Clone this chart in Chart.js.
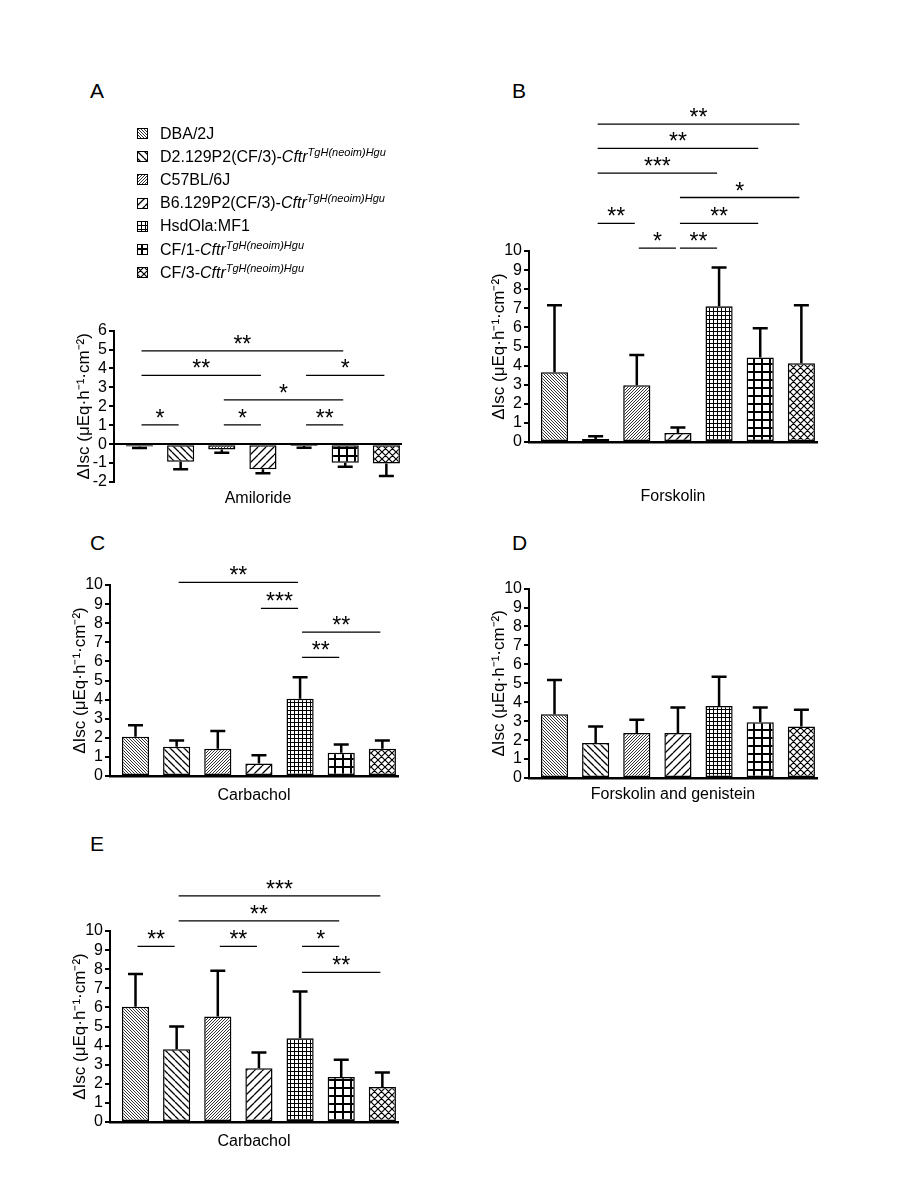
<!DOCTYPE html>
<html>
<head>
<meta charset="utf-8">
<script src="https://cdn.jsdelivr.net/npm/chart.js@4.4.1/dist/chart.umd.min.js"></script>
<style>
  body { margin: 0; background: #fff; width: 900px; height: 1200px; position: relative;
         font-family: "Liberation Sans", Arial, sans-serif; color: #000; }
  canvas.panel { position: absolute; }
  .letter { position: absolute; font-size: 21px; line-height: 21px; }
  #legend { position: absolute; left: 137px; top: 122px; font-size: 16px; }
  #legend .row { height: 23.2px; display: flex; align-items: center; white-space: nowrap; }
  #legend canvas { width: 11px; height: 11px; margin-right: 12px; }
  #legend sup { font-size: 11px; font-style: italic; line-height: 0; vertical-align: 6px; }
</style>
</head>
<body>
<div class="letter" style="left:90px;top:80px">A</div>
<div class="letter" style="left:512px;top:80px">B</div>
<div class="letter" style="left:90px;top:532px">C</div>
<div class="letter" style="left:512px;top:532px">D</div>
<div class="letter" style="left:90px;top:833px">E</div>
<div id="legend"></div>
<canvas class="panel" id="chartA"></canvas>
<canvas class="panel" id="chartB"></canvas>
<canvas class="panel" id="chartC"></canvas>
<canvas class="panel" id="chartD"></canvas>
<canvas class="panel" id="chartE"></canvas>
<script>
(() => {
  'use strict'

  const strains = ['DBA/2J', 'D2.129P2(CF/3)-Cftr', 'C57BL/6J', 'B6.129P2(CF/3)-Cftr',
                   'HsdOla:MF1', 'CF/1-Cftr', 'CF/3-Cftr'];
  const allele = 'TgH(neoim)Hgu';

  // mean and error (SEM) per strain
  const amilorideMean = [-0.12, -0.93, -0.28, -1.33, -0.1, -0.98, -1.02];
  const amilorideErr = [0.09, 0.39, 0.18, 0.21, 0.09, 0.21, 0.66];
  const forskolinMean = [3.65, 0.16, 2.97, 0.47, 7.11, 4.43, 4.12];
  const forskolinErr = [3.51, 0.14, 1.58, 0.29, 2.02, 1.53, 3.04];
  const carbacholCMean = [2.05, 1.53, 1.43, 0.65, 4.04, 1.22, 1.43];
  const carbacholCErr = [0.61, 0.33, 0.92, 0.43, 1.13, 0.43, 0.43];
  const fskGenMean = [3.37, 1.85, 2.38, 2.38, 3.8, 2.95, 2.72];
  const fskGenErr = [1.8, 0.87, 0.69, 1.34, 1.54, 0.77, 0.88];
  const carbacholEMean = [6.04, 3.81, 5.52, 2.82, 4.39, 2.35, 1.83];
  const carbacholEErr = [1.71, 1.19, 2.4, 0.82, 2.44, 0.91, 0.76];

  // significance brackets: [from bar, to bar, height, label]
  const sigA = [[0, 5, 4.93, '**'], [0, 3, 3.63, '**'], [4, 6, 3.63, '*'], [2, 5, 2.34, '*'],
                [0, 1, 1.02, '*'], [2, 3, 1.02, '*'], [4, 5, 1.02, '**']];
  const sigB = [[1, 6, 16.64, '**'], [1, 5, 15.37, '**'], [1, 4, 14.08, '***'], [3, 6, 12.8, '*'],
                [1, 2, 11.45, '**'], [3, 5, 11.45, '**'], [2, 3, 10.15, '*'], [3, 4, 10.15, '**']];
  const sigC = [[1, 4, 10.14, '**'], [3, 4, 8.78, '***'], [4, 6, 7.53, '**'], [4, 5, 6.21, '**']];
  const sigD = [];
  const sigE = [[1, 6, 11.84, '***'], [1, 5, 10.53, '**'], [0, 1, 9.2, '**'], [2, 3, 9.2, '**'],
                [4, 5, 9.2, '*'], [4, 6, 7.83, '**']];

  const rangeA = [-2, 6];
  const rangeFull = [0, 10];
  const yTitle = 'ΔIsc (μEq·h⁻¹·cm⁻²)';

  const FONT = '"Liberation Sans", Arial, sans-serif';
  Chart.defaults.font.family = FONT;
  Chart.defaults.color = '#000';

  const patternSpecs = [
    { type: 'back', size: 3, width: 0.8 },
    { type: 'back', size: 7, width: 1.3 },
    { type: 'fwd', size: 3, width: 0.8 },
    { type: 'fwd', size: 8, width: 1.3 },
    { type: 'grid', size: 4, width: 1 },
    { type: 'grid', size: 8, width: 2 },
    { type: 'cross', size: 7, width: 1.2 }
  ];

  function tile(spec) {
    const s = spec.size;
    const c = document.createElement('canvas');
    c.width = s; c.height = s;
    const g = c.getContext('2d');
    g.fillStyle = '#fff';
    g.fillRect(0, 0, s, s);
    g.strokeStyle = '#000';
    g.lineWidth = spec.width;
    g.beginPath();
    if (spec.type === 'back' || spec.type === 'cross') {
      for (const k of [-s, 0, s]) { g.moveTo(k, 0); g.lineTo(k + s, s); }
    }
    if (spec.type === 'fwd' || spec.type === 'cross') {
      for (const k of [-s, 0, s]) { g.moveTo(k, s); g.lineTo(k + s, 0); }
    }
    if (spec.type === 'grid') {
      const p = spec.width / 2;
      g.moveTo(p, 0); g.lineTo(p, s);
      g.moveTo(0, p); g.lineTo(s, p);
    }
    g.stroke();
    return c;
  }
  const tiles = patternSpecs.map(tile);
  const patternsFor = ctx => tiles.map(t => ctx.createPattern(t, 'repeat'));

  // legend (HTML, for the italic gene name and superscript allele)
  const legend = document.getElementById('legend');
  strains.forEach((name, i) => {
    const row = document.createElement('div');
    row.className = 'row';
    const sw = document.createElement('canvas');
    sw.width = 11; sw.height = 11;
    const g = sw.getContext('2d');
    const pat = g.createPattern(tiles[i], 'repeat');
    if (patternSpecs[i].type === 'grid' && patternSpecs[i].size > 4) {
      pat.setTransform(new DOMMatrix().translate(4, 4));
    }
    g.fillStyle = pat;
    g.fillRect(0, 0, 11, 11);
    g.strokeStyle = '#000';
    g.lineWidth = 1;
    g.strokeRect(0.5, 0.5, 10, 10);
    row.appendChild(sw);
    const txt = document.createElement('span');
    if (name.endsWith('-Cftr')) {
      txt.innerHTML = name.slice(0, -4) + '<i>Cftr</i><sup>' + allele + '</sup>';
    } else {
      txt.textContent = name;
    }
    row.appendChild(txt);
    legend.appendChild(row);
  });

  const errorBars = {
    id: 'errorBars',
    afterDatasetsDraw(chart, args, opts) {
      const { ctx, scales: { y } } = chart;
      const vals = chart.data.datasets[0].data;
      ctx.save();
      ctx.strokeStyle = '#000';
      ctx.lineWidth = 2.5;
      chart.getDatasetMeta(0).data.forEach((bar, i) => {
        const v = vals[i];
        const end = y.getPixelForValue(v + Math.sign(v) * opts.errors[i]);
        ctx.beginPath();
        ctx.moveTo(bar.x, bar.y);
        ctx.lineTo(bar.x, end);
        ctx.moveTo(bar.x - 7.5, end);
        ctx.lineTo(bar.x + 7.5, end);
        ctx.stroke();
      });
      ctx.restore();
    }
  };

  const sigBars = {
    id: 'sigBars',
    afterDraw(chart, args, opts) {
      const { ctx, scales: { x, y } } = chart;
      ctx.save();
      ctx.strokeStyle = '#000';
      ctx.fillStyle = '#000';
      ctx.lineWidth = 1.3;
      ctx.font = '23px ' + FONT;
      ctx.textAlign = 'center';
      ctx.textBaseline = 'alphabetic';
      opts.marks.forEach(([a, b, v, label]) => {
        const x1 = x.getPixelForValue(a) + 2;
        const x2 = x.getPixelForValue(b) - 2;
        const yy = y.getPixelForValue(v);
        ctx.beginPath();
        ctx.moveTo(x1, yy);
        ctx.lineTo(x2, yy);
        ctx.stroke();
        ctx.fillText(label, (x1 + x2) / 2, yy + 1);
      });
      ctx.restore();
    }
  };

  const Y_W = 40, CHART_W = 288, PAD_R = 10;

  function panel(id, box, mean, err, sig, range, xTitle, zeroLine) {
    const el = document.getElementById(id);
    const chartH = (range[1] - range[0]) * 19.15;
    el.width = Y_W + CHART_W + PAD_R;
    el.height = box.padTop + chartH + box.xH;
    el.style.left = (box.axisX - Y_W) + 'px';
    el.style.top = (box.topY - box.padTop) + 'px';
    const ctx = el.getContext('2d');

    return new Chart(ctx, {
      type: 'bar',
      data: {
        labels: strains.map(s => s.endsWith('-Cftr') ? s + allele : s),
        datasets: [{
          data: mean,
          backgroundColor: patternsFor(ctx),
          borderColor: '#000',
          borderWidth: 1.5,
          borderSkipped: false,
          categoryPercentage: 0.66,
          barPercentage: 1
        }]
      },
      options: {
        responsive: false,
        animation: false,
        events: [],
        layout: { padding: { top: box.padTop, right: PAD_R, left: 0, bottom: 0 } },
        scales: {
          x: {
            offset: true,
            afterDataLimits: s => { s.min = -0.12; },
            afterFit: s => { s.height = box.xH; },
            ticks: { display: false },
            grid: { display: false },
            border: { display: !zeroLine, color: '#000', width: 2.5 },
            title: { display: true, text: xTitle, font: { size: 16 }, padding: 0 }
          },
          y: {
            min: range[0],
            max: range[1],
            afterFit: s => { s.width = Y_W; },
            ticks: { stepSize: 1, autoSkip: false, font: { size: 16 }, padding: 2 },
            grid: {
              drawOnChartArea: !!zeroLine,
              color: c => (c.tick && c.tick.value === 0) ? '#000' : 'rgba(0,0,0,0)',
              lineWidth: 2,
              tickColor: '#000',
              tickWidth: 2,
              tickLength: 5
            },
            border: { display: true, color: '#000', width: 2 },
            title: { display: true, text: yTitle, font: { size: 17 }, padding: 0 }
          }
        },
        plugins: {
          legend: { display: false },
          tooltip: { enabled: false },
          errorBars: { errors: err },
          sigBars: { marks: sig }
        }
      },
      plugins: [errorBars, sigBars]
    });
  }

  panel('chartA', { axisX: 114, topY: 329, padTop: 10, xH: 26 },
    amilorideMean, amilorideErr, sigA, rangeA, 'Amiloride', true);
  panel('chartB', { axisX: 529, topY: 251, padTop: 160, xH: 64 },
    forskolinMean, forskolinErr, sigB, rangeFull, 'Forskolin', false);
  panel('chartC', { axisX: 110, topY: 585, padTop: 35, xH: 29 },
    carbacholCMean, carbacholCErr, sigC, rangeFull, 'Carbachol', false);
  panel('chartD', { axisX: 529, topY: 587, padTop: 10, xH: 26 },
    fskGenMean, fskGenErr, sigD, rangeFull, 'Forskolin and genistein', false);
  panel('chartE', { axisX: 110, topY: 931, padTop: 60, xH: 29 },
    carbacholEMean, carbacholEErr, sigE, rangeFull, 'Carbachol', false);
})();
</script>
</body>
</html>
